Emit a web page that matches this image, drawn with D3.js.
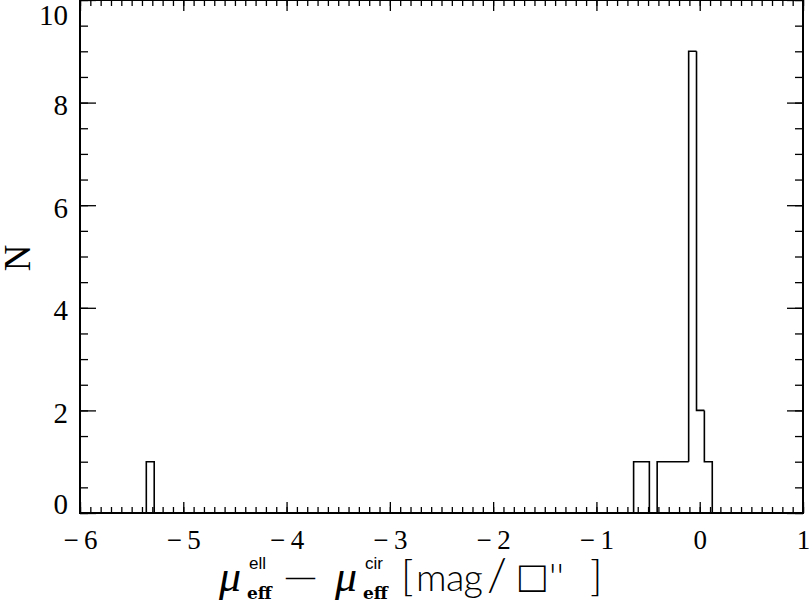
<!DOCTYPE html>
<html>
<head>
<meta charset="utf-8">
<script src="https://cdn.jsdelivr.net/npm/d3@7"></script>
<style>
  body { margin: 0; background: #fff; }
  svg { display: block; }
</style>
</head>
<body>
<script>
// histogram of mu_eff(ell) - mu_eff(cir), bin width ~0.076 mag
var binLeft  = [-5.358, -0.640, -0.564, -0.412, -0.336, -0.260, -0.183, -0.107, -0.031, 0.045];
var binCount = [1, 1, 1, 1, 1, 1, 1, 9, 2, 1];
var binWidth = 0.0765;

var xMajor = [-6, -5, -4, -3, -2, -1, 0, 1];
var yMajor = [0, 2, 4, 6, 8, 10];

var w = 809, h = 602;
var padL = 80, padR = 803, padT = 0, padB = 513;
var serif = "'Liberation Serif', 'DejaVu Serif', serif";

var svg = d3.select("body").append("svg")
    .attr("width", w)
    .attr("height", h);

var xScale = d3.scaleLinear().domain([-6, 1]).range([padL, padR]);
var yScale = d3.scaleLinear().domain([0, 10]).range([padB, padT]);

var xMinor = d3.range(-6, 1.001, 0.1).map(function (d) { return Math.round(d * 10) / 10; });
var yMinor = d3.range(0, 10.001, 0.5);

// minor ticks, all four sides, pointing inward
svg.append("g").attr("transform", "translate(0," + padB + ")")
    .call(d3.axisBottom(xScale).tickValues(xMinor).tickSize(-6).tickSizeOuter(0).tickFormat(""));
svg.append("g").attr("transform", "translate(0," + padT + ")")
    .call(d3.axisTop(xScale).tickValues(xMinor).tickSize(-6).tickSizeOuter(0).tickFormat(""));
svg.append("g").attr("transform", "translate(" + padL + ",0)")
    .call(d3.axisLeft(yScale).tickValues(yMinor).tickSize(-8).tickSizeOuter(0).tickFormat(""));
svg.append("g").attr("transform", "translate(" + padR + ",0)")
    .call(d3.axisRight(yScale).tickValues(yMinor).tickSize(-8).tickSizeOuter(0).tickFormat(""));

// major ticks
var xAxis = svg.append("g").attr("class", "xaxis").attr("transform", "translate(0," + padB + ")")
    .call(d3.axisBottom(xScale).tickValues(xMajor).tickSize(-11).tickSizeOuter(0)
        .tickFormat(function (d) { return d < 0 ? "\u2212\u2009" + Math.abs(d) : d; }));
svg.append("g").attr("transform", "translate(0," + padT + ")")
    .call(d3.axisTop(xScale).tickValues(xMajor).tickSize(-11).tickSizeOuter(0).tickFormat(""));
var yAxis = svg.append("g").attr("class", "yaxis").attr("transform", "translate(" + padL + ",0)")
    .call(d3.axisLeft(yScale).tickValues(yMajor).tickSize(-16).tickSizeOuter(0));
svg.append("g").attr("transform", "translate(" + padR + ",0)")
    .call(d3.axisRight(yScale).tickValues(yMajor).tickSize(-16).tickSizeOuter(0).tickFormat(""));

svg.selectAll(".domain").remove();
svg.selectAll(".tick line").attr("stroke", "#000").attr("stroke-width", 1.3);

xAxis.attr("font-family", null);
xAxis.selectAll(".tick text")
    .style("font-family", serif)
    .style("font-size", "27px")
    .attr("fill", "#000")
    .attr("y", 0).attr("dy", 36);

yAxis.attr("font-family", null);
yAxis.selectAll(".tick text")
    .style("font-family", serif)
    .style("font-size", "29px")
    .attr("fill", "#000")
    .attr("x", -12)
    .attr("dy", function (d) { return d === 0 ? 0 : (d === 10 ? 24 : 12); });

// frame
svg.append("rect")
    .attr("x", padL).attr("y", padT)
    .attr("width", padR - padL).attr("height", padB - padT)
    .attr("fill", "none").attr("stroke", "#000").attr("stroke-width", 2);

// histogram outline
var pts = [];
var level = 0;
for (var i = 0; i < binLeft.length; i++) {
    var l = binLeft[i], r = l + binWidth;
    pts.push([l, level]);
    pts.push([l, binCount[i]]);
    pts.push([r, binCount[i]]);
    var next = binLeft[i + 1];
    if (next !== undefined && Math.abs(next - r) < 0.01) {
        level = binCount[i];
    } else {
        pts.push([r, 0]);
        level = 0;
    }
}
var line = d3.line()
    .x(function (d) { return xScale(d[0]); })
    .y(function (d) { return yScale(d[1]); });
svg.append("path")
    .attr("d", line(pts))
    .attr("fill", "none")
    .attr("stroke", "#000")
    .attr("stroke-width", 1.6);

// y label
svg.append("text")
    .attr("transform", "translate(30,258) rotate(-90)")
    .attr("text-anchor", "middle")
    .style("font-family", serif)
    .style("font-size", "37px")
    .text("N");

// x label
var lab = svg.append("g").attr("class", "xlabel");
function mu(x0, sup) {
    lab.append("text").attr("x", x0).attr("y", 591)
        .style("font-family", serif).style("font-style", "italic")
        .style("font-size", "44px").text("\u03bc");
    lab.append("text").attr("x", x0 + 30).attr("y", 569)
        .style("font-family", "'Liberation Sans', sans-serif")
        .style("font-size", "17px").text(sup);
    lab.append("text").attr("x", x0 + 28).attr("y", 599)
        .style("font-family", "'DejaVu Serif', serif").style("font-weight", "bold")
        .style("font-size", "17px").text("eff");
}
mu(219, "ell");
lab.append("text").attr("x", 286).attr("y", 586)
    .style("font-family", serif)
    .style("font-size", "29px").text("\u2014");
mu(335, "cir");

var unitParts = ["[", "mag", "/", "\u25a1", "''", "]"];
var unitX = [401, 416, 487, 519, 549, 590];
lab.selectAll("text.unit")
    .data(unitParts)
    .enter().append("text")
    .attr("class", "unit")
    .attr("x", function (d, i) { return unitX[i]; })
    .attr("y", function (d) { return d === "\u25a1" ? 592 : 591; })
    .style("font-family", function (d) {
        return d === "\u25a1" ? "'DejaVu Sans', sans-serif" : "Lato, 'Liberation Sans', sans-serif";
    })
    .style("font-weight", 300)
    .style("font-size", function (d) {
        if (d === "[" || d === "]") return "42px";
        if (d === "/") return "46px";
        if (d === "\u25a1") return "44px";
        return "38px";
    })
    .attr("textLength", function (d) { return d === "mag" ? 67 : (d === "/" ? 28 : null); })
    .text(function (d) { return d; });
</script>
</body>
</html>
